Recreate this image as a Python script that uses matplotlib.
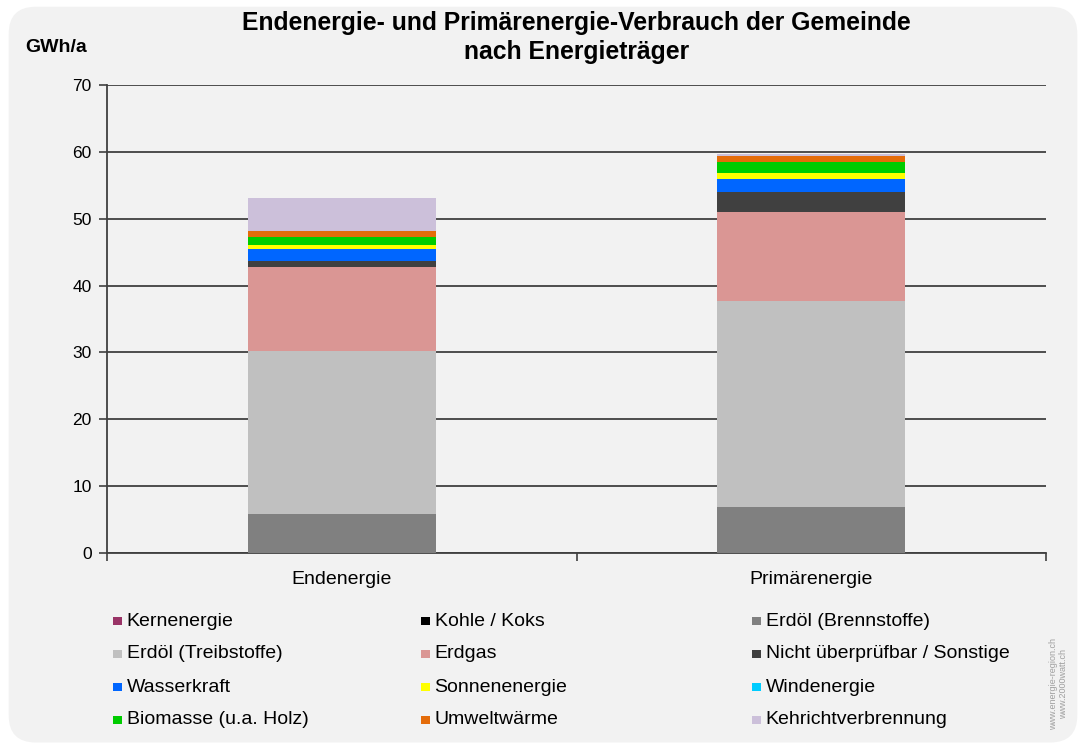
import numpy as np
import matplotlib
matplotlib.use("Agg")
import matplotlib.pyplot as plt
from matplotlib.patches import FancyBboxPatch, Rectangle

plt.rcParams['font.family'] = ['Liberation Sans', 'DejaVu Sans']

# Energieträger (Reihenfolge = Stapelung von unten nach oben)
carriers = ["Kernenergie", "Kohle / Koks", "Erdöl (Brennstoffe)",
            "Erdöl (Treibstoffe)", "Erdgas", "Nicht überprüfbar / Sonstige",
            "Wasserkraft", "Sonnenenergie", "Windenergie",
            "Biomasse (u.a. Holz)", "Umweltwärme", "Kehrichtverbrennung"]
colors = ["#993366", "#000000", "#808080",
          "#c0c0c0", "#da9694", "#404040",
          "#0066ff", "#ffff00", "#00ccff",
          "#00cc00", "#e46c0a", "#ccc0da"]

categories = ["Endenergie", "Primärenergie"]
endenergie = [0.0, 0.0, 5.85, 24.35, 12.65, 0.87, 1.7, 0.7, 0.0, 1.15, 0.95, 4.9]
primaerenergie = [0.0, 0.0, 6.9, 30.85, 13.26, 3.04, 1.85, 0.9, 0.0, 1.69, 0.9, 0.25]

values = np.array([endenergie, primaerenergie]).T  # Zeilen: Energieträger

W, H = 1086, 747
fig = plt.figure(figsize=(W / 100, H / 100), dpi=100)
fig.patch.set_facecolor("white")
panel = FancyBboxPatch((0.008, 0.006), 0.984, 0.985,
                       boxstyle="round,pad=0,rounding_size=0.025",
                       transform=fig.transFigure, facecolor="#f2f2f2",
                       edgecolor="none", zorder=-10, mutation_aspect=1.45)
fig.patches.append(panel)

ax = fig.add_axes([0.0985, 0.2597, 0.8647, 0.6265])
ax.set_facecolor("none")

x = np.arange(len(categories))
bottom = np.zeros(len(categories))
for name, col, vals in zip(carriers, colors, values):
    ax.bar(x, vals, width=0.4, bottom=bottom, color=col, edgecolor="none",
           label=name, zorder=3)
    bottom += vals

ax.set_xlim(-0.5, 1.5)
ax.set_ylim(0, 70)
ax.set_yticks(np.arange(0, 71, 10))
ax.yaxis.grid(True, color="#404040", linewidth=1.3, zorder=0)
ax.tick_params(axis="y", length=6, width=1.2, color="#404040",
               labelsize=12.5, pad=5)

ax.set_xticks([-0.5, 0.5, 1.5])
ax.set_xticklabels([])
ax.set_xticks(x, minor=True)
ax.set_xticklabels(categories, minor=True, fontsize=14)
ax.tick_params(axis="x", which="major", length=6, width=1.2, color="#404040")
ax.tick_params(axis="x", which="minor", length=0, pad=13)

for side in ["top", "right"]:
    ax.spines[side].set_visible(False)
for side in ["left", "bottom"]:
    ax.spines[side].set_color("#404040")
    ax.spines[side].set_linewidth(1.3)

fig.text(0.531, 0.985, "Endenergie- und Primärenergie-Verbrauch der Gemeinde\nnach Energieträger",
         ha="center", va="top", fontsize=17.8, fontweight="bold", linespacing=1.25)
fig.text(0.023, 0.936, "GWh/a", ha="left", va="center", fontsize=14,
         fontweight="bold")

# Legende zeilenweise in drei Spalten
col_x = [113, 421, 752]
for i, (name, col) in enumerate(zip(carriers, colors)):
    row, c = divmod(i, 3)
    lx = col_x[c] / W
    ly = 1 - (621 + row * 33) / H
    fig.patches.append(Rectangle((lx, ly - 0.006), 0.008, 0.012,
                                 transform=fig.transFigure, facecolor=col,
                                 edgecolor="none"))
    fig.text(lx + 0.0125, ly, name, ha="left", va="center", fontsize=14)

fig.text(0.9745, 0.085, "www.energie-region.ch\nwww.2000watt.ch", rotation=90,
         ha="center", va="center", fontsize=6.5, color="#a0a0a0",
         linespacing=1.1)

fig.savefig("out.png", dpi=100)
